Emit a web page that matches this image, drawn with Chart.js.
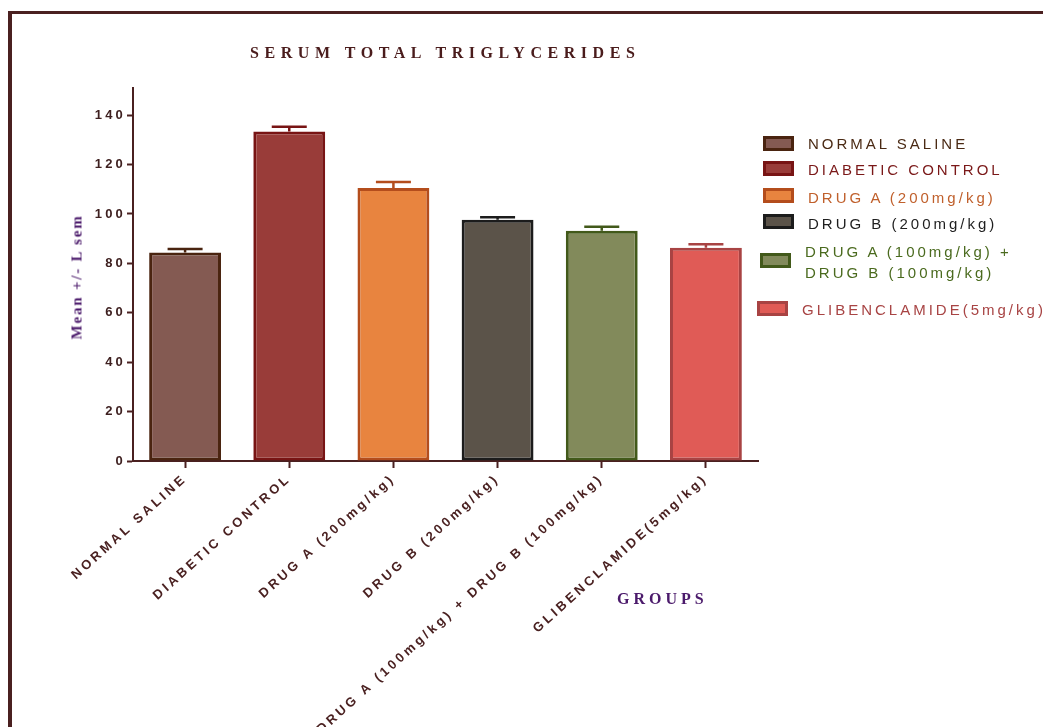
<!DOCTYPE html>
<html>
<head>
<meta charset="utf-8">
<title>Serum Total Triglycerides</title>
<script src="https://cdn.jsdelivr.net/npm/chart.js@4.4.1/dist/chart.umd.min.js"></script>
<style>
    html, body { margin: 0; padding: 0; background: #fff; }
    body { width: 1043px; height: 727px; overflow: hidden; position: relative; font-family: "Liberation Sans", Arial, sans-serif; }
    .frame { position: absolute; left: 8px; top: 11px; width: 1100px; height: 800px; border-left: 4px solid #4a2020; border-top: 3px solid #4a2020; }
    #wrap { position: absolute; left: 0; top: 0; width: 1043px; height: 727px; }
    .title { position: absolute; left: 250px; top: 44px; font: bold 16px "Liberation Serif", "Times New Roman", serif; letter-spacing: 5.55px; color: #4a1c1c; white-space: nowrap; }
    .ytitle { position: absolute; left: 77px; top: 277px; transform: translate(-50%, -50%) rotate(-90deg); font: bold 15px "Liberation Serif", serif; letter-spacing: 1.8px; color: #4b1a6b; white-space: nowrap; }
    .xtitle { position: absolute; left: 617px; top: 590px; font: bold 16px "Liberation Serif", serif; letter-spacing: 4px; color: #4b1a6b; white-space: nowrap; }
    .lbox { position: absolute; width: 25px; height: 9px; border: 3px solid; }
    .ltxt { position: absolute; font-size: 15px; line-height: 21px; letter-spacing: 3px; white-space: nowrap; }
</style>
</head>
<body>
<div class="frame"></div>
<div id="wrap"><canvas id="chartTG"></canvas></div>
<div class="title">SERUM TOTAL TRIGLYCERIDES</div>
<div class="ytitle">Mean +/- L sem</div>
<div class="xtitle">GROUPS</div>
<div id="legend"></div>

<script>
const categories = ['NORMAL SALINE', 'DIABETIC CONTROL', 'DRUG A (200mg/kg)', 'DRUG B (200mg/kg)', 'DRUG A (100mg/kg) + DRUG B (100mg/kg)', 'GLIBENCLAMIDE(5mg/kg)'];
const meanValues = [84.4, 133.4, 110.5, 97.7, 93.2, 86.3];
const semValues = [1.4, 1.9, 2.4, 1.0, 1.6, 1.4];
const yTicks = [0, 20, 40, 60, 80, 100, 120, 140];

const fillColors = ['#845a52', '#993c39', '#e8843f', '#5b5349', '#828a5b', '#e05b56'];
const lineColors = ['#4a2410', '#781414', '#b44d1c', '#1c1c1c', '#42591a', '#a84343'];
const legendTextColors = ['#4a2a14', '#7a1818', '#c0602c', '#1e1e1e', '#4a6a1e', '#a84444'];

// legend placement [box x, box y, text x, text top]
const legendPos = [[763, 136, 808, 133], [763, 161, 808, 159], [763, 188, 808, 187], [763, 214, 808, 213], [760, 253, 805, 241], [757, 301, 802, 299]];

const axisColor = '#4a2020';
const tickFont = { family: '"Liberation Sans", Arial, sans-serif', size: 13, weight: 'bold' };

function buildLegend() {
    const el = document.getElementById('legend');
    el.innerHTML = categories.map((c, i) => {
        const p = legendPos[i];
        const txt = c.replace(' + ', ' +<br>');
        return `<div class="lbox" style="left:${p[0]}px;top:${p[1]}px;background:${fillColors[i]};border-color:${lineColors[i]}"></div>
                <div class="ltxt" style="left:${p[2]}px;top:${p[3]}px;color:${legendTextColors[i]}">${txt}</div>`;
    }).join('');
}

const spacing = {
    id: 'spacing',
    beforeUpdate(chart) { chart.ctx.letterSpacing = '3.2px'; },
    beforeDraw(chart) { chart.ctx.letterSpacing = '3.2px'; }
};

const errorBars = {
    id: 'errorBars',
    afterDatasetsDraw(chart) {
        const ctx = chart.ctx;
        const y = chart.scales.y;
        const meta = chart.getDatasetMeta(0);
        ctx.save();
        ctx.lineWidth = 2.5;
        meta.data.forEach((bar, i) => {
            const top = y.getPixelForValue(meanValues[i] + semValues[i]);
            ctx.strokeStyle = lineColors[i];
            ctx.beginPath();
            ctx.moveTo(bar.x, bar.y);
            ctx.lineTo(bar.x, top);
            ctx.moveTo(bar.x - 17.5, top);
            ctx.lineTo(bar.x + 17.5, top);
            ctx.stroke();
        });
        ctx.restore();
    }
};

function drawChart() {
    new Chart(document.getElementById('chartTG'), {
        type: 'bar',
        data: {
            labels: categories,
            datasets: [{
                data: meanValues,
                backgroundColor: fillColors,
                borderColor: lineColors,
                borderWidth: 3,
                borderSkipped: false,
                barPercentage: 0.69,
                categoryPercentage: 1
            }]
        },
        options: {
            responsive: true,
            maintainAspectRatio: false,
            animation: false,
            layout: { padding: { top: 88, right: 285, left: 0, bottom: 0 } },
            plugins: { legend: { display: false }, title: { display: false }, tooltip: { enabled: false } },
            scales: {
                x: {
                    grid: { offset: false, drawOnChartArea: false, drawTicks: true, tickLength: 7, tickWidth: 2, tickColor: axisColor },
                    border: { color: axisColor, width: 2 },
                    ticks: { autoSkip: false, maxRotation: 42, minRotation: 42, color: '#4a2121', font: tickFont, padding: 3 },
                    afterFit(scale) { scale.height = 266; }
                },
                y: {
                    min: 0,
                    max: 151,
                    grid: { drawOnChartArea: false, drawTicks: true, tickLength: 6, tickWidth: 2, tickColor: axisColor },
                    border: { color: axisColor, width: 2 },
                    ticks: { color: '#3e2020', font: tickFont, padding: 1 },
                    afterBuildTicks(axis) { axis.ticks = yTicks.map(v => ({ value: v })); },
                    afterFit(scale) { scale.width = 133; }
                }
            }
        },
        plugins: [spacing, errorBars]
    });
}

buildLegend();
drawChart();
</script>
</body>
</html>
